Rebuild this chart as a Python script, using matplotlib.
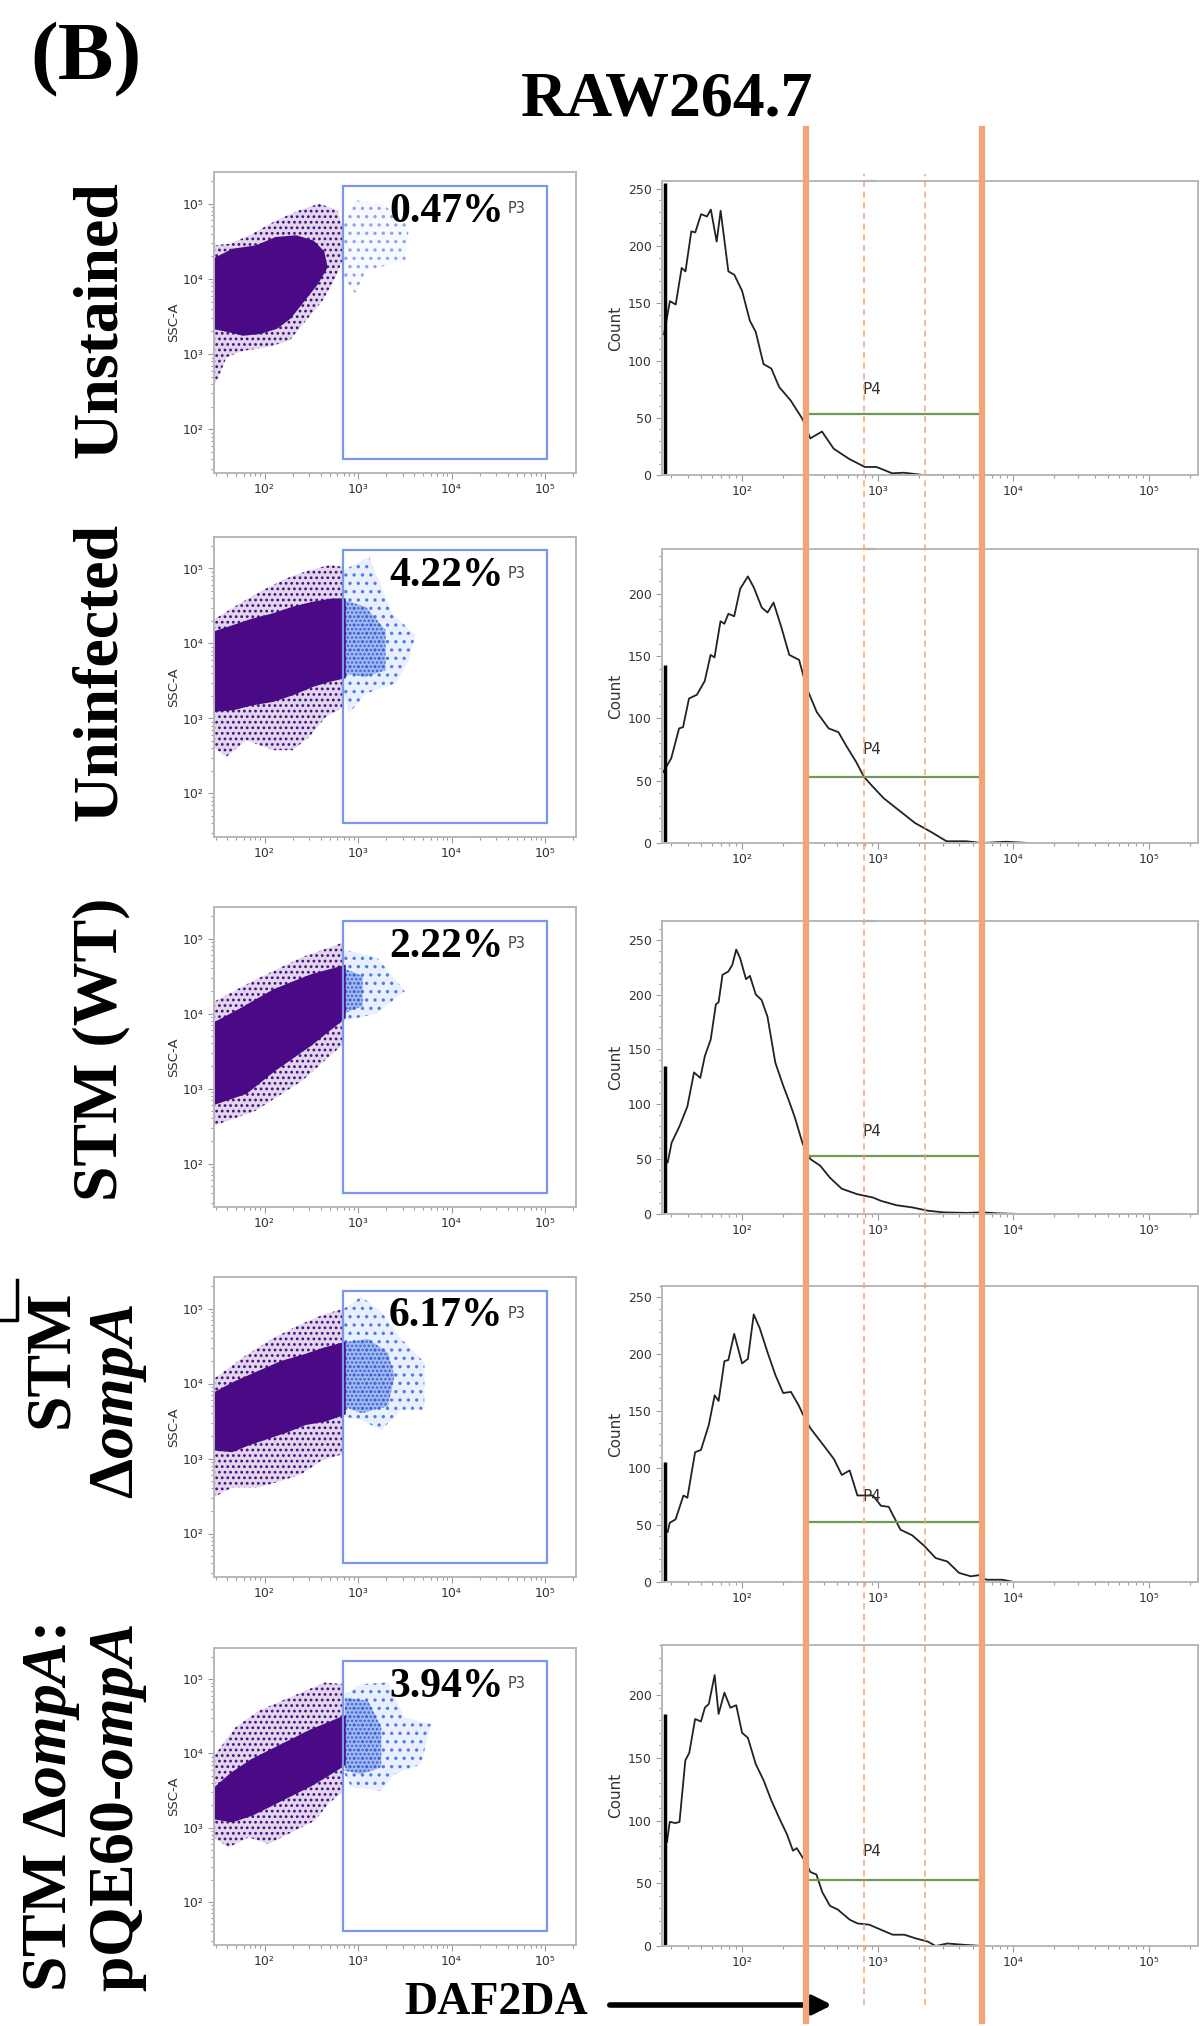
import numpy as np
import matplotlib
matplotlib.use("Agg")
import matplotlib.pyplot as plt
import matplotlib.ticker as mticker
from matplotlib.patches import Polygon, Rectangle, FancyArrowPatch
from matplotlib.lines import Line2D
from matplotlib.transforms import blended_transform_factory

# ---- data (log10 of fluorescence / SSC) ----
samples = ["Unstained", "Uninfected", "STM (WT)", "STM ΔompA", "STM ΔompA:pQE60-ompA"]
p3_pct = ["0.47%", "4.22%", "2.22%", "6.17%", "3.94%"]

hist1_log = [1.425, 1.468, 1.511, 1.555, 1.583, 1.626, 1.655, 1.698, 1.741, 1.770, 1.813, 1.842,
             1.899, 1.943, 2.0, 2.057, 2.101, 2.158, 2.216, 2.273, 2.359, 2.445, 2.503, 2.589,
             2.675, 2.790, 2.905, 2.991, 3.106, 3.193, 3.336, 3.48, 3.85]
hist1_cnt = [123, 152, 149, 181, 178, 213, 212, 228, 226, 232, 204, 231, 178, 175, 161, 135, 125,
             97, 93, 77, 65, 49, 32, 38, 23, 14, 7, 7, 1.5, 2, 0, 0, 0]

hist2_log = [1.420, 1.478, 1.536, 1.565, 1.609, 1.667, 1.725, 1.768, 1.797, 1.841, 1.870, 1.899,
             1.942, 1.986, 2.043, 2.087, 2.145, 2.188, 2.232, 2.290, 2.348, 2.420, 2.478, 2.551,
             2.638, 2.710, 2.768, 2.841, 2.899, 2.957, 3.043, 3.159, 3.275, 3.391, 3.507, 3.652,
             3.768, 3.942, 4.116]
hist2_cnt = [57, 68, 92, 93, 116, 119, 130, 151, 149, 178, 176, 184, 182, 204, 214, 205, 189, 185,
             193, 173, 151, 147, 124, 105, 92, 89, 78, 65, 53, 46, 36, 26, 16, 9, 1.4, 1.4, 0, 1, 0]

hist3_log = [1.452, 1.481, 1.539, 1.597, 1.646, 1.692, 1.726, 1.769, 1.807, 1.827, 1.856, 1.899,
             1.928, 1.957, 1.986, 2.029, 2.058, 2.101, 2.144, 2.187, 2.245, 2.303, 2.346, 2.389,
             2.447, 2.504, 2.576, 2.648, 2.735, 2.850, 2.965, 3.023, 3.138, 3.254, 3.369, 3.484,
             3.657, 3.772, 3.888, 4.06, 5.21]
hist3_cnt = [47, 65, 80, 98, 129, 124, 144, 159, 191, 193, 218, 221, 227, 241, 233, 214, 217, 200,
             195, 180, 138, 117, 103, 88, 64, 50, 44, 33, 23, 18, 15, 12, 8, 6, 3, 1.5, 1, 1.5,
             0.6, 0, 0]

hist4_log = [1.452, 1.467, 1.510, 1.568, 1.597, 1.654, 1.697, 1.755, 1.798, 1.827, 1.870, 1.899,
             1.942, 2.0, 2.043, 2.086, 2.130, 2.187, 2.245, 2.303, 2.360, 2.418, 2.461, 2.504,
             2.562, 2.620, 2.677, 2.735, 2.793, 2.850, 2.908, 2.965, 3.023, 3.081, 3.167, 3.254,
             3.340, 3.427, 3.513, 3.599, 3.686, 3.744, 3.801, 3.916, 4.003]
hist4_cnt = [44, 52, 55, 76, 74, 114, 116, 138, 164, 159, 194, 195, 218, 192, 196, 235, 223, 202,
             182, 166, 167, 155, 144, 135, 126, 117, 108, 94, 98, 76, 76, 76, 67, 66, 46, 41, 32,
             21, 18, 8, 5, 6, 2, 2, 0]

hist5_log = [1.447, 1.467, 1.510, 1.539, 1.582, 1.611, 1.654, 1.697, 1.726, 1.755, 1.798, 1.827,
             1.870, 1.914, 1.957, 2.0, 2.043, 2.101, 2.159, 2.216, 2.274, 2.331, 2.375, 2.403,
             2.461, 2.504, 2.548, 2.591, 2.648, 2.706, 2.793, 2.850, 2.937, 3.023, 3.110, 3.196,
             3.282, 3.369, 3.427, 3.513, 3.628, 3.772]
hist5_cnt = [83, 99, 98, 99, 148, 154, 181, 179, 190, 193, 216, 185, 202, 190, 192, 170, 166, 145,
             132, 116, 102, 89, 76, 78, 68, 59, 57, 43, 32, 29, 21, 18, 17, 13, 9, 9, 6, 3.5, 0,
             2, 1, 0]

first_bin_spike = [255, 143, 135, 105, 185]
hist_ymax = [257, 236, 267, 260, 240]

# P4 gate and marker lines (log10 DAF2DA)
p4_gate = (2.48, 3.77, 53)
marker_solid = [2.47, 3.77]
marker_dashed = [2.90, 3.35]

# P3 gate on the dot plots (log10 DAF2DA, log10 SSC-A)
p3_gate = (2.84, 5.02, 1.61, 5.24)

# dot-plot clouds: outlines of dense core, sparse halo and P3 (blue) events
core_1 = [(1.45, 4.244), (1.663, 4.378), (1.911, 4.422), (2.124, 4.533), (2.337, 4.556), (2.514, 4.489),
          (2.621, 4.356), (2.656, 4.156), (2.550, 3.933), (2.408, 3.711), (2.266, 3.489), (2.124, 3.356),
          (1.947, 3.289), (1.770, 3.267), (1.628, 3.311), (1.45, 3.356)]
halo_1 = [(1.45, 4.444), (1.628, 4.467), (1.840, 4.578), (2.124, 4.778), (2.372, 4.911), (2.585, 5.0),
          (2.780, 4.911), (2.833, 4.689), (2.833, 4.244), (2.762, 4.022), (2.621, 3.711), (2.443, 3.444),
          (2.266, 3.178), (2.018, 3.089), (1.770, 3.044), (1.592, 2.956), (1.521, 2.733), (1.45, 2.556)]
blue_1 = [(2.84, 4.733), (2.975, 5.044), (3.259, 5.0), (3.543, 4.689), (3.507, 4.244), (3.082, 4.111),
          (2.975, 3.8), (2.84, 4.022)]
blue_dense_1 = []

core_2 = [(1.45, 4.133), (1.663, 4.222), (1.876, 4.311), (2.089, 4.378), (2.301, 4.467), (2.514, 4.533),
          (2.727, 4.578), (2.85, 4.578), (2.85, 3.556), (2.691, 3.511), (2.514, 3.444), (2.301, 3.333),
          (2.089, 3.244), (1.876, 3.2), (1.663, 3.133), (1.45, 3.111)]
halo_2 = [(1.45, 4.311), (1.734, 4.533), (1.982, 4.711), (2.230, 4.867), (2.479, 4.978), (2.691, 5.044),
          (2.85, 5.022), (2.85, 3.156), (2.656, 3.022), (2.479, 2.756), (2.301, 2.578), (2.089, 2.578),
          (1.805, 2.711), (1.592, 2.489), (1.45, 2.622)]
blue_2 = [(2.85, 4.978), (3.117, 5.156), (3.365, 4.4), (3.613, 4.111), (3.543, 3.778), (3.401, 3.467),
          (3.082, 3.333), (2.904, 3.067), (2.85, 3.333)]
blue_dense_2 = [(2.85, 4.578), (3.082, 4.489), (3.294, 4.178), (3.294, 3.644), (3.082, 3.556), (2.85, 3.6)]

core_3 = [(1.45, 3.85), (1.75, 4.05), (2.1, 4.3), (2.5, 4.5), (2.85, 4.62), (2.85, 3.95), (2.5, 3.6),
          (2.1, 3.25), (1.8, 2.95), (1.45, 2.8)]
halo_3 = [(1.45, 4.15), (1.9, 4.45), (2.4, 4.75), (2.85, 4.95), (2.85, 3.6), (2.4, 3.1), (1.9, 2.7),
          (1.45, 2.5)]
blue_3 = [(2.85, 4.85), (3.2, 4.75), (3.5, 4.3), (3.2, 4.0), (2.85, 3.9)]
blue_dense_3 = [(2.85, 4.6), (3.05, 4.5), (3.05, 4.1), (2.85, 4.0)]

core_4 = [(1.45, 3.851), (1.688, 4.009), (1.936, 4.144), (2.184, 4.279), (2.433, 4.369), (2.645, 4.459),
          (2.85, 4.527), (2.85, 3.604), (2.645, 3.514), (2.433, 3.468), (2.255, 3.378), (2.043, 3.288),
          (1.830, 3.198), (1.652, 3.108), (1.45, 3.131)]
halo_4 = [(1.45, 4.054), (1.794, 4.369), (2.078, 4.595), (2.362, 4.775), (2.610, 4.910), (2.85, 5.0),
          (2.85, 3.063), (2.610, 2.973), (2.397, 2.793), (2.184, 2.703), (1.936, 2.613), (1.652, 2.613),
          (1.45, 2.477)]
blue_4 = [(2.85, 5.0), (3.035, 5.158), (3.248, 4.955), (3.461, 4.595), (3.709, 4.279), (3.709, 3.649),
          (3.461, 3.649), (3.248, 3.378), (3.035, 3.514), (2.85, 3.559)]
blue_dense_4 = [(2.85, 4.550), (3.106, 4.595), (3.319, 4.414), (3.390, 4.099), (3.319, 3.694),
                (3.035, 3.604), (2.85, 3.694)]

core_5 = [(1.45, 3.498), (1.652, 3.722), (1.865, 3.901), (2.078, 4.036), (2.291, 4.170), (2.504, 4.305),
          (2.681, 4.395), (2.85, 4.484), (2.85, 3.857), (2.681, 3.722), (2.504, 3.587), (2.291, 3.453),
          (2.078, 3.318), (1.865, 3.184), (1.652, 3.094), (1.45, 3.139)]
halo_5 = [(1.45, 3.946), (1.688, 4.350), (1.936, 4.574), (2.184, 4.709), (2.433, 4.843), (2.645, 4.955),
          (2.85, 4.933), (2.85, 3.498), (2.681, 3.318), (2.539, 3.094), (2.326, 2.960), (2.043, 2.780),
          (1.830, 2.870), (1.617, 2.735), (1.45, 2.870)]
blue_5 = [(2.858, 4.798), (3.035, 4.933), (3.319, 4.955), (3.496, 4.484), (3.780, 4.395), (3.674, 3.857),
          (3.390, 3.722), (3.248, 3.498), (2.929, 3.543), (2.858, 3.722)]
blue_dense_5 = [(2.858, 4.753), (3.106, 4.709), (3.248, 4.350), (3.248, 3.812), (3.035, 3.722),
                (2.858, 3.767)]

hists = [(hist1_log, hist1_cnt), (hist2_log, hist2_cnt), (hist3_log, hist3_cnt),
         (hist4_log, hist4_cnt), (hist5_log, hist5_cnt)]
clouds = [(core_1, halo_1, blue_1, blue_dense_1), (core_2, halo_2, blue_2, blue_dense_2),
          (core_3, halo_3, blue_3, blue_dense_3), (core_4, halo_4, blue_4, blue_dense_4),
          (core_5, halo_5, blue_5, blue_dense_5)]

# ---- layout (pixels of the 1201x2026 figure) ----
W, H = 1201, 2026
dot_x = (214, 576)
dot_rows = [(172, 473), (537, 837), (907, 1207), (1277, 1577), (1648, 1945)]
hist_x = (662, 1198)
hist_rows = [(181, 475), (549, 843), (921, 1214), (1286, 1582), (1645, 1946)]

PURPLE = "#4a0a85"
BLUE = "#4f7de8"
ORANGE = "#f3a474"
SERIF = "Liberation Serif"

plt.rcParams['mathtext.fontset'] = 'custom'
plt.rcParams['mathtext.rm'] = 'Liberation Serif:bold'
plt.rcParams['mathtext.it'] = 'Liberation Serif:italic:bold'
plt.rcParams['mathtext.bf'] = 'Liberation Serif:bold'
plt.rcParams['hatch.linewidth'] = 1.2


def rect(xs, ys):
    return [xs[0] / W, 1 - ys[1] / H, (xs[1] - xs[0]) / W, (ys[1] - ys[0]) / H]


def style_axes(ax):
    for s in ax.spines.values():
        s.set_color("#b8b8b8")
        s.set_linewidth(1.4)
    ax.tick_params(which='both', color="#9a9a9a", labelcolor="#333333", labelsize=9, width=0.8)
    ax.tick_params(which='major', length=4)
    ax.tick_params(which='minor', length=2.5)


def add_poly(ax, pts, **kw):
    if not pts:
        return
    xy = 10 ** np.array(pts)
    ax.add_patch(Polygon(xy, closed=True, **kw))


fig = plt.figure(figsize=(W / 100, H / 100), dpi=100)

dec_labels = ["10²", "10³", "10⁴", "10⁵"]
dec_ticks = [1e2, 1e3, 1e4, 1e5]

hist_axes = []
for i in range(5):
    # ---- SSC-A vs DAF2DA dot plot ----
    ax = fig.add_axes(rect(dot_x, dot_rows[i]))
    ax.set_xscale('log')
    ax.set_yscale('log')
    ax.set_xlim(10 ** 1.46, 10 ** 5.33)
    ax.set_ylim(10 ** 1.42, 10 ** 5.42)
    core, halo, blue, blue_dense = clouds[i]
    add_poly(ax, halo, facecolor=PURPLE, alpha=0.16, lw=0)
    add_poly(ax, halo, fill=False, hatch='...', edgecolor=PURPLE, lw=0)
    add_poly(ax, blue, facecolor=BLUE, alpha=0.04 if i == 0 else 0.12, lw=0)
    add_poly(ax, blue, fill=False, hatch='..', edgecolor="#8aa6ee" if i == 0 else BLUE, lw=0)
    add_poly(ax, blue_dense, facecolor=BLUE, alpha=0.45, lw=0)
    add_poly(ax, blue_dense, fill=False, hatch='....', edgecolor="#3a63d0", lw=0)
    add_poly(ax, core, facecolor=PURPLE, edgecolor=PURPLE, lw=2.5)
    gx0, gx1, gy0, gy1 = p3_gate
    ax.add_patch(Rectangle((10 ** gx0, 10 ** gy0), 10 ** gx1 - 10 ** gx0, 10 ** gy1 - 10 ** gy0,
                           fill=False, edgecolor="#7a98ea", lw=1.6))
    ax.set_xticks(dec_ticks, dec_labels)
    ax.set_yticks(dec_ticks, dec_labels)
    ax.xaxis.set_minor_locator(mticker.LogLocator(subs=np.arange(2, 10)))
    ax.yaxis.set_minor_locator(mticker.LogLocator(subs=np.arange(2, 10)))
    ax.xaxis.set_minor_formatter(mticker.NullFormatter())
    ax.yaxis.set_minor_formatter(mticker.NullFormatter())
    ax.set_ylabel("SSC-A", fontsize=9.5, color="#333333", labelpad=2)
    style_axes(ax)
    ax.text(0.80, 0.835, p3_pct[i], transform=ax.transAxes, ha='right', va='baseline',
            fontsize=30, fontweight='bold', family=SERIF)
    ax.text(0.81, 0.905, "P3", transform=ax.transAxes, ha='left', va='top',
            fontsize=10.5, color="#444444")

    # ---- DAF2DA histogram ----
    hx = fig.add_axes(rect(hist_x, hist_rows[i]))
    hx.set_xscale('log')
    hx.set_xlim(10 ** 1.41, 10 ** 5.36)
    hx.set_ylim(0, hist_ymax[i])
    lx, cnt = hists[i]
    hx.plot(10 ** np.array(lx), cnt, color="#222222", lw=1.3)
    hx.vlines(10 ** 1.435, 0, first_bin_spike[i], color="black", lw=2.5)
    px0, px1, py = p4_gate
    hx.hlines(py, 10 ** px0, 10 ** px1, color="#6d9a55", lw=1.6)
    hx.text(10 ** 2.96, 75, "P4", ha='center', va='center', fontsize=11, color="#333333")
    if i < 3:
        # small gate handle at the top edge
        hx.hlines(hist_ymax[i], 10 ** 2.905, 10 ** 2.99, color="#333333", lw=1.5, clip_on=False)
    hx.set_xticks(dec_ticks, dec_labels)
    hx.xaxis.set_minor_locator(mticker.LogLocator(subs=np.arange(2, 10)))
    hx.xaxis.set_minor_formatter(mticker.NullFormatter())
    hx.yaxis.set_major_locator(mticker.MultipleLocator(50))
    hx.yaxis.set_minor_locator(mticker.MultipleLocator(10))
    hx.set_ylabel("Count", fontsize=11, color="#333333", labelpad=3)
    style_axes(hx)
    hist_axes.append(hx)

# ---- vertical marker lines across all histograms ----
bt = blended_transform_factory(hist_axes[0].transData, fig.transFigure)
for v in marker_solid:
    fig.add_artist(Line2D([10 ** v, 10 ** v], [1 - 2021 / H, 1 - 129 / H], transform=bt,
                          color=ORANGE, lw=4.5, zorder=5))
for v in marker_dashed:
    fig.add_artist(Line2D([10 ** v, 10 ** v], [1 - 2005 / H, 1 - 174 / H], transform=bt,
                          color=ORANGE, lw=1.1, linestyle=(0, (4, 3)), zorder=5))

# ---- titles and row labels ----
fig.text(86 / W, 1 - 60 / H, "(B)", ha='center', va='center', fontsize=60,
         fontweight='bold', family=SERIF)
fig.text(667 / W, 1 - 100 / H, "RAW264.7", ha='center', va='center', fontsize=46,
         fontweight='bold', family=SERIF)

label_kw = dict(rotation=90, ha='center', va='center', fontsize=46, fontweight='bold', family=SERIF)
fig.text(101 / W, 1 - 320 / H, "Unstained", **label_kw)
fig.text(101 / W, 1 - 672 / H, "Uninfected", **label_kw)
fig.text(101 / W, 1 - 1049 / H, "STM (WT)", **label_kw)
fig.text(52 / W, 1 - 1359 / H, "STM", **label_kw)
fig.text(119 / W, 1 - 1401 / H, r"$\mathit{\Delta ompA}$", **label_kw)
fig.text(52 / W, 1 - 1808 / H, r"STM $\mathit{\Delta ompA}$:", **label_kw)
fig.text(119 / W, 1 - 1808 / H, r"pQE60-$\mathit{ompA}$", **label_kw)

# corner mark at left edge
fig.add_artist(Line2D([17 / W, 17 / W, 0], [1 - 1280 / H, 1 - 1320 / H, 1 - 1320 / H],
                      transform=fig.transFigure, color="black", lw=2.5))

# ---- x-axis label with arrow ----
fig.text(404 / W, 1 - 2003 / H, "DAF2DA", ha='left', va='center', fontsize=33,
         fontweight='bold', family=SERIF)
fig.add_artist(FancyArrowPatch((607 / W, 1 - 2005 / H), (835 / W, 1 - 2005 / H),
                               transform=fig.transFigure, arrowstyle='-|>', mutation_scale=28,
                               lw=4, color="black"))

fig.savefig("out.png", dpi=100, facecolor="white")
